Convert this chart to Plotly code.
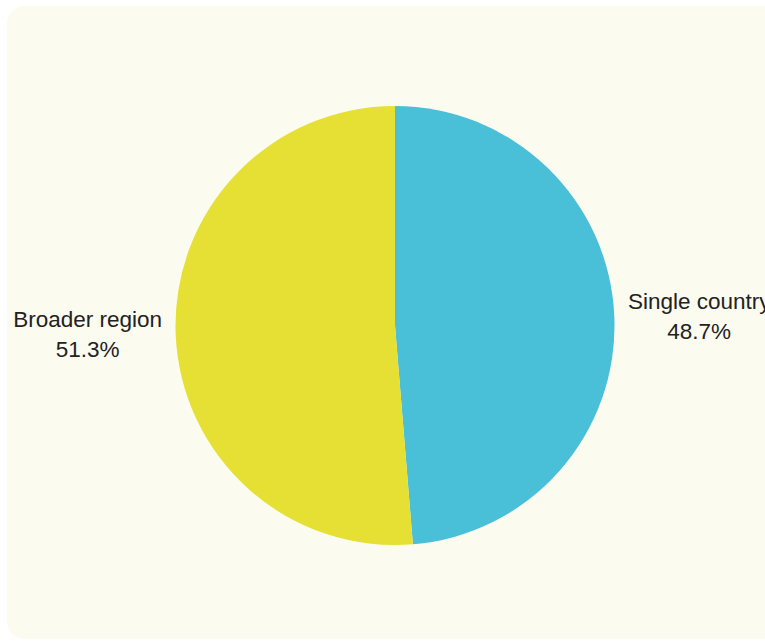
import plotly.graph_objects as go

# Share of entries by geographic scope
labels = ["Single country", "Broader region"]
values = [48.7, 51.3]
colors = ["#49bfd8", "#e5e033"]

# The canvas is a little wider than the visible page so the right-hand
# label can run past the edge without the pie being shrunk to fit it.
W, H = 800, 641


def px_x(x):
    return x / W


def px_y(y):
    return 1 - y / H


# Rounded card behind the chart (left corners rounded, right side runs off the page)
x0, y0, x1, y1, r = 7, 6, 800, 639, 20
card_path = (
    f"M {px_x(x0 + r)},{px_y(y0)} L {px_x(x1)},{px_y(y0)} L {px_x(x1)},{px_y(y1)} "
    f"L {px_x(x0 + r)},{px_y(y1)} Q {px_x(x0)},{px_y(y1)} {px_x(x0)},{px_y(y1 - r)} "
    f"L {px_x(x0)},{px_y(y0 + r)} Q {px_x(x0)},{px_y(y0)} {px_x(x0 + r)},{px_y(y0)} Z"
)

# Pie placed by pixel geometry: centre (395, 325.5), radius 219.5
cx, cy, rad = 395, 325.5, 219.5

fig = go.Figure(
    go.Pie(
        labels=labels,
        values=values,
        sort=False,
        direction="clockwise",
        rotation=0,
        marker=dict(colors=colors, line=dict(width=0)),
        textposition="outside",
        texttemplate="%{label}<br>%{percent:.1%}",
        textfont=dict(family="Liberation Sans, Arial, sans-serif", size=22.5, color="#222222"),
        domain=dict(
            x=[px_x(cx - rad), px_x(cx + rad)],
            y=[px_y(cy + rad), px_y(cy - rad)],
        ),
        showlegend=False,
        hoverinfo="label+percent",
    )
)

fig.update_layout(
    width=W,
    height=H,
    margin=dict(l=0, r=0, t=0, b=0),
    paper_bgcolor="#ffffff",
    plot_bgcolor="#ffffff",
    shapes=[
        dict(
            type="path",
            path=card_path,
            xref="paper",
            yref="paper",
            fillcolor="#fbfbf0",
            line=dict(width=0),
            layer="below",
        )
    ],
)

fig.write_html(
    "out.html",
    post_script="document.body.style.margin='0';document.body.style.overflow='hidden';",
)
